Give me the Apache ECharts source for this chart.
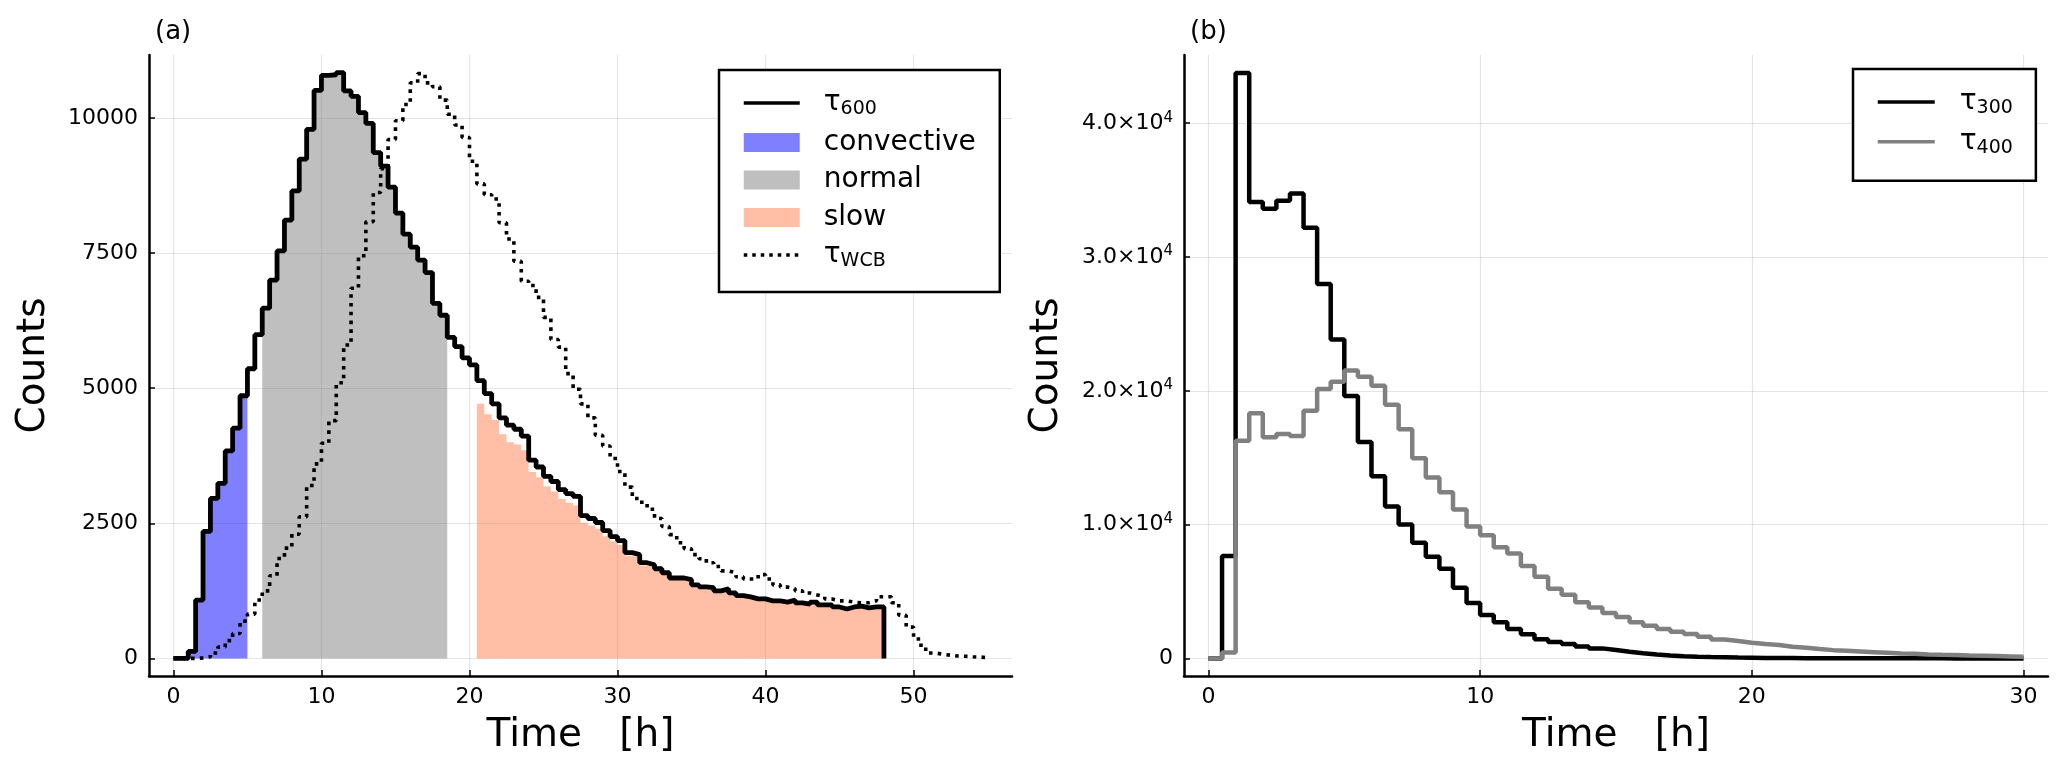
<!DOCTYPE html>
<html>
<head>
<meta charset="utf-8">
<script src="https://cdn.jsdelivr.net/npm/echarts@6/dist/echarts.min.js"></script>
<style>
html,body{margin:0;padding:0;background:#ffffff;}
#chart{width:2067px;height:774px;}
</style>
</head>
<body>
<div id="chart"></div>
<script>
// ---------------- data (bin width 0.5 h, values = counts per bin) ----------------
const binWidth = 0.5;

// panel (a): tau600 histogram, bins starting at 0 h
const tau600 = [0, 0, 130, 1080, 2350, 2960, 3240, 3840, 4260, 4860,
  5360, 5990, 6480, 7000, 7540, 8110, 8650, 9240, 9790, 10510,
  10790, 10800, 10840, 10500, 10400, 10100, 9900, 9360, 9110, 8720,
  8240, 7850, 7610, 7370, 7140, 6570, 6350, 5940, 5770, 5560,
  5430, 5140, 4900, 4710, 4450, 4315, 4240, 4114, 3668, 3542,
  3370, 3274, 3125, 3050, 2998, 2641, 2589, 2515, 2366, 2254,
  2180, 1957, 1920, 1771, 1734, 1659, 1585, 1488, 1488, 1458,
  1362, 1324, 1309, 1250, 1287, 1213, 1161, 1138, 1101, 1101,
  1064, 1064, 1042, 1079, 1027, 1004, 1042, 990, 990, 952,
  915, 952, 967, 937, 952, 952];
const tau600Start = 0;

// convective part: bins 1.0 h .. 5.0 h
const convectiveStart = 1.0;
const convective = [130, 1080, 2350, 2960, 3240, 3840, 4260, 4860];

// normal part: bins 6.0 h .. 18.5 h
const normalStart = 6.0;
const normal = [6480, 7000, 7540, 8110, 8650, 9240, 9790, 10510,
  10790, 10800, 10840, 10500, 10400, 10100, 9900, 9360, 9110, 8720,
  8240, 7850, 7610, 7370, 7140, 6570, 6350];

// slow part: bins 20.5 h .. 48 h
const slowStart = 20.5;
const slow = [4710, 4520, 4410, 4150, 4000, 3960, 3850, 3450, 3350,
  3180, 3090, 2950, 2880, 2830, 2510, 2460, 2400, 2260, 2170,
  2100, 1900, 1870, 1720, 1690, 1620, 1550, 1450, 1455, 1425,
  1330, 1295, 1280, 1225, 1260, 1190, 1140, 1118, 1082, 1083,
  1046, 1047, 1025, 1062, 1010, 988, 1026, 975, 975, 938,
  901, 938, 953, 923, 938, 938];

// tauWCB histogram, bins starting at 0 h
const tauWCBStart = 0;
const tauWCB = [0, 0, 0, 10, 30, 100, 210, 330, 460, 690,
  820, 1080, 1250, 1530, 1850, 2040, 2300, 2620, 3200, 3600,
  3980, 4400, 5100, 5800, 6850, 7450, 8080, 8620, 9060, 9600,
  9950, 10250, 10650, 10820, 10650, 10580, 10330, 10070, 9870, 9640,
  9200, 8780, 8580, 8500, 8060, 7760, 7350, 6980, 6900, 6680,
  6310, 5900, 5760, 5270, 4980, 4710, 4450, 4130, 3930, 3700,
  3460, 3170, 2960, 2890, 2760, 2590, 2440, 2290, 2140, 2030,
  1920, 1845, 1770, 1700, 1620, 1585, 1510, 1470, 1470, 1550,
  1470, 1360, 1320, 1290, 1250, 1210, 1175, 1140, 1100, 1065,
  1065, 1040, 1030, 1030, 1065, 1140, 1140, 1030, 800, 580,
  360, 170, 100, 75, 60, 45, 40, 30, 25, 15];

// panel (b)
const tau300Start = 0;
const tau300 = [0, 7660, 43750, 34100, 33600, 34200, 34740, 32180, 27980, 23830,
  19620, 16170, 13610, 11360, 10010, 8650, 7600, 6700, 5290, 4150,
  3250, 2700, 2190, 1800, 1440, 1230, 1080, 900, 750, 630,
  500, 390, 290, 220, 170, 130, 100, 80, 60, 50,
  40, 32, 26, 21, 17, 14, 12, 10, 8, 7,
  6, 5, 4, 4, 3, 3, 2, 2, 2, 1];
const tau400Start = 0;
const tau400 = [0, 450, 16260, 18330, 16530, 16770, 16620, 18510, 20130, 20670,
  21520, 21040, 20370, 18960, 17130, 14960, 13520, 12410, 11120, 9860,
  9200, 8300, 7850, 6910, 6100, 5200, 4750, 4200, 3800, 3400,
  3100, 2700, 2450, 2200, 2000, 1820, 1620, 1420, 1300, 1170,
  1070, 1000, 870, 800, 700, 620, 570, 520, 470, 420,
  370, 350, 300, 270, 250, 220, 200, 175, 150, 125];

// tick values
const aXTicks = [0, 10, 20, 30, 40, 50];
const aYTicks = [0, 2500, 5000, 7500, 10000];
const bXTicks = [0, 10, 20, 30];
const bYTicks = [0, 10000, 20000, 30000, 40000];

// data ranges (axis limits get 3% padding like the source plot)
const aXRange = [0, 55];
const aYRange = [0, 10840];
const bXRange = [0, 30];
const bYRange = [0, 43780];

// ---------------- helpers ----------------
function steps(start, vals, dropToZero) {
  const pts = vals.map((v, i) => [start + i * binWidth, v]);
  const end = start + vals.length * binWidth;
  pts.push([end, vals[vals.length - 1]]);
  if (dropToZero) pts.push([end, 0]);
  return pts;
}
function pad(r) { const d = (r[1] - r[0]) * 0.03; return [r[0] - d, r[1] + d]; }

const FONT = 'DejaVu Sans';
const aX = pad(aXRange), aY = pad(aYRange), bX = pad(bXRange), bY = pad(bYRange);

function xAxisDef(gridIndex, rng, ticks) {
  return {
    type: 'value', gridIndex: gridIndex, min: rng[0], max: rng[1],
    name: 'Time   [h]', nameLocation: 'middle', nameGap: 40,
    nameTextStyle: { fontSize: 39, color: '#000', fontFamily: FONT },
    axisLine: { show: true, onZero: false, lineStyle: { color: '#000', width: 2.5 } },
    axisTick: { show: true, inside: true, length: 6, customValues: ticks, lineStyle: { color: '#000', width: 1.5 } },
    axisLabel: { customValues: ticks, fontSize: 22, color: '#000', fontFamily: FONT, margin: 10,
      formatter: v => String(v) },
    splitLine: { show: true, lineStyle: { color: 'rgba(0,0,0,0.1)', width: 1.2 } }
  };
}
function yAxisDef(gridIndex, rng, ticks, gap, fmt) {
  const d = {
    type: 'value', gridIndex: gridIndex, min: rng[0], max: rng[1],
    name: 'Counts', nameLocation: 'middle', nameGap: gap,
    nameTextStyle: { fontSize: 39, color: '#000', fontFamily: FONT },
    axisLine: { show: true, onZero: false, lineStyle: { color: '#000', width: 2.5 } },
    axisTick: { show: true, inside: true, length: 6, customValues: ticks, lineStyle: { color: '#000', width: 1.5 } },
    axisLabel: { customValues: ticks, fontSize: 22, color: '#000', fontFamily: FONT, margin: 11,
      formatter: v => String(v) },
    splitLine: { show: true, lineStyle: { color: 'rgba(0,0,0,0.1)', width: 1.2 } }
  };
  if (fmt) {
    d.axisLabel.formatter = fmt;
    d.axisLabel.rich = {
      b: { fontSize: 22, lineHeight: 26, color: '#000', fontFamily: FONT },
      s: { fontSize: 15, lineHeight: 16, verticalAlign: 'top', color: '#000', fontFamily: FONT }
    };
  }
  return d;
}

const legendRich = {
  t: { fontSize: 28, lineHeight: 32, color: '#000', fontFamily: FONT },
  s: { fontSize: 19, lineHeight: 19, verticalAlign: 'bottom', color: '#000', fontFamily: FONT }
};
const legendLabels = {
  'τ600': '{t|τ}{s|600}', 'convective': '{t|convective}', 'normal': '{t|normal}',
  'slow': '{t|slow}', 'τWCB': '{t|τ}{s|WCB}', 'τ300': '{t|τ}{s|300}', 'τ400': '{t|τ}{s|400}'
};
const noSymbol = { opacity: 0 };

function stepSeries(name, xi, pts, color, width, extra) {
  return Object.assign({
    name: name, type: 'line', xAxisIndex: xi, yAxisIndex: xi, data: pts,
    step: 'end', showSymbol: false, symbol: 'none', silent: true,
    lineStyle: { color: color, width: width }, itemStyle: { color: color }
  }, extra || {});
}
function fillSeries(name, pts, solid, rgba) {
  return {
    name: name, type: 'line', xAxisIndex: 0, yAxisIndex: 0, data: pts,
    step: 'end', showSymbol: false, symbol: 'none', silent: true, z: 1,
    itemStyle: { color: solid },
    lineStyle: { width: 0, opacity: 0 },
    areaStyle: { color: rgba, opacity: 1 }
  };
}

const chart = echarts.init(document.getElementById('chart'), null, { renderer: 'canvas' });
chart.setOption({
  animation: false,
  backgroundColor: '#ffffff',
  textStyle: { fontFamily: FONT },
  title: [
    { text: '(a)', left: 150, top: 14, textStyle: { fontSize: 26, fontWeight: 'normal', color: '#000', fontFamily: FONT } },
    { text: '(b)', left: 1185, top: 14, textStyle: { fontSize: 26, fontWeight: 'normal', color: '#000', fontFamily: FONT } }
  ],
  grid: [
    { left: 149, top: 55, width: 863, height: 621 },
    { left: 1184, top: 55, width: 864, height: 621 }
  ],
  xAxis: [xAxisDef(0, aX, aXTicks), xAxisDef(1, bX, bXTicks)],
  yAxis: [
    yAxisDef(0, aY, aYTicks, 96, null),
    yAxisDef(1, bY, bYTicks, 118, v => v === 0 ? '{b|0}' : '{b|' + (v / 1e4).toFixed(1) + '×10}{s|4}')
  ],
  legend: [
    {
      orient: 'vertical', left: 719, top: 70, padding: [19, 24, 21, 23],
      borderColor: '#000', borderWidth: 2.5, backgroundColor: '#fff',
      itemWidth: 56, itemHeight: 19, itemGap: 9.5,
      selectedMode: false,
      formatter: n => legendLabels[n],
      textStyle: { padding: [0, 0, 0, 19], rich: legendRich },
      data: [
        { name: 'τ600', itemStyle: noSymbol, lineStyle: { color: '#000', width: 3.5 } },
        { name: 'convective', icon: 'rect', itemStyle: { color: '#8080ff' } },
        { name: 'normal', icon: 'rect', itemStyle: { color: '#bfbfbf' } },
        { name: 'slow', icon: 'rect', itemStyle: { color: '#ffbfa7' } },
        { name: 'τWCB', itemStyle: noSymbol, lineStyle: { color: '#000', width: 3.5, type: [3.5, 5], cap: 'butt' } }
      ]
    },
    {
      orient: 'vertical', left: 1853, top: 69, padding: [19, 23, 23, 23],
      borderColor: '#000', borderWidth: 2.5, backgroundColor: '#fff',
      itemWidth: 57, itemHeight: 19, itemGap: 9.7,
      selectedMode: false,
      formatter: n => legendLabels[n],
      textStyle: { padding: [0, 0, 0, 20], rich: legendRich },
      data: [
        { name: 'τ300', itemStyle: noSymbol, lineStyle: { color: '#000', width: 3.5 } },
        { name: 'τ400', itemStyle: noSymbol, lineStyle: { color: '#808080', width: 3.5 } }
      ]
    }
  ],
  series: [
    fillSeries('convective', steps(convectiveStart, convective, false), '#8080ff', 'rgba(0,0,255,0.5)'),
    fillSeries('normal', steps(normalStart, normal, false), '#bfbfbf', 'rgba(128,128,128,0.5)'),
    fillSeries('slow', steps(slowStart, slow, false), '#ffbfa7', 'rgba(255,127,80,0.5)'),
    stepSeries('τ600', 0, steps(tau600Start, tau600, true), '#000', 4.8, { z: 3 }),
    stepSeries('τWCB', 0, steps(tauWCBStart, tauWCB, false), '#000', 3.6,
      { z: 4, lineStyle: { color: '#000', width: 3.6, type: [3.6, 5.2], cap: 'butt' } }),
    stepSeries('τ300', 1, steps(tau300Start, tau300, false), '#000', 4.5, { z: 3 }),
    stepSeries('τ400', 1, steps(tau400Start, tau400, false), '#808080', 4.5, { z: 4 })
  ]
});
</script>
</body>
</html>
